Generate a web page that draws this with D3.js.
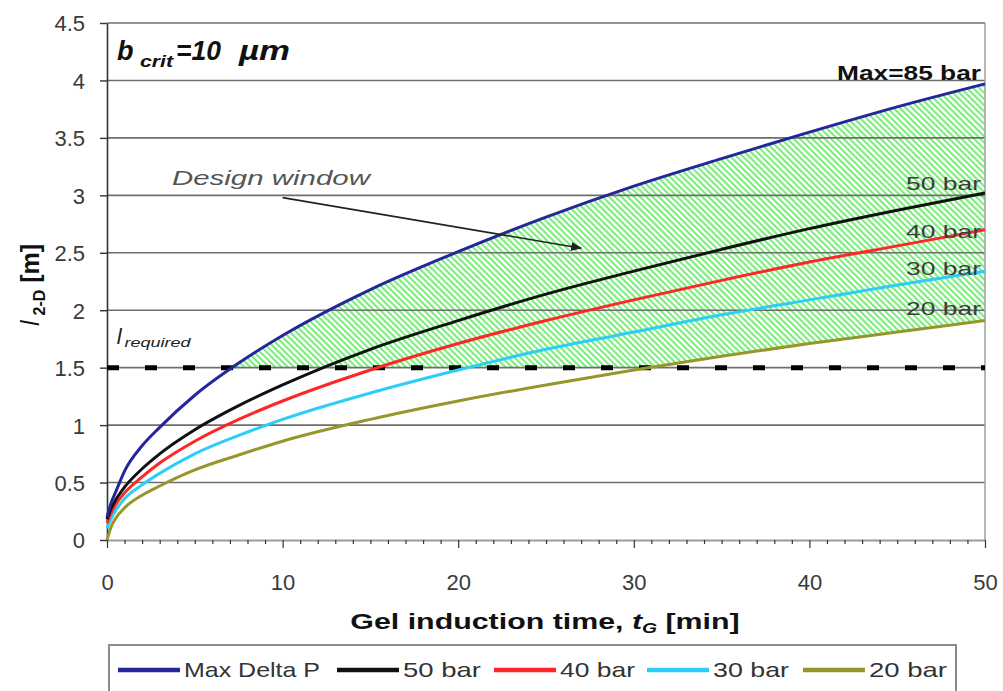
<!DOCTYPE html>
<html>
<head>
<meta charset="utf-8">
<script src="https://cdn.jsdelivr.net/npm/d3@7"></script>
<style>
  body { margin: 0; background: #fff; }
  text { font-family: "Liberation Sans", Arial, sans-serif; }
</style>
</head>
<body>
<svg id="chart" width="1003" height="691"></svg>
<script>
// gel induction time t_G [min]
const tMin = [0, 0.25, 0.5, 1, 2, 3, 5, 7.5, 10, 15, 20, 25, 30, 35, 40, 45, 50]
// l_2-D [m]
const maxDeltaP = [0.2, 0.33, 0.42, 0.6, 0.82, 0.98, 1.26, 1.54, 1.78, 2.18, 2.51, 2.81, 3.08, 3.32, 3.55, 3.77, 3.97]
const bar50 = [0.18, 0.28, 0.35, 0.46, 0.62, 0.75, 0.96, 1.17, 1.35, 1.66, 1.91, 2.14, 2.34, 2.53, 2.71, 2.87, 3.02]
const bar40 = [0.15, 0.24, 0.31, 0.41, 0.55, 0.67, 0.86, 1.05, 1.21, 1.48, 1.71, 1.91, 2.09, 2.26, 2.42, 2.56, 2.70]
const bar30 = [0.1, 0.19, 0.26, 0.36, 0.48, 0.58, 0.75, 0.91, 1.05, 1.28, 1.48, 1.66, 1.81, 1.96, 2.09, 2.22, 2.34]
const bar20 = [0.0, 0.12, 0.19, 0.28, 0.39, 0.47, 0.61, 0.74, 0.86, 1.05, 1.21, 1.35, 1.48, 1.60, 1.71, 1.81, 1.91]
const lRequired = 1.5

const seriesNames = ['Max Delta P', '50 bar', '40 bar', '30 bar', '20 bar']
const endLabels = ['Max=85 bar', '50 bar', '40 bar', '30 bar', '20 bar']
const yTicks = [0, 0.5, 1, 1.5, 2, 2.5, 3, 3.5, 4, 4.5]
const xTicks = [0, 10, 20, 30, 40, 50]

const colors = ['#25259c', '#111111', '#ff2626', '#2ccdf6', '#96962a']
const allSeries = [maxDeltaP, bar50, bar40, bar30, bar20]

const svg = d3.select('#chart')
const plot = { left: 107, right: 985, top: 23, bottom: 540 }

const x = d3.scaleLinear().domain([0, 50]).range([plot.left, plot.right])
const y = d3.scaleLinear().domain([0, 4.5]).range([plot.bottom, plot.top])

const pts = (vals) => tMin.map((t, i) => [t, vals[i]])

// hatch pattern for the design window
const defs = svg.append('defs')
const pat = defs.append('pattern')
    .attr('id', 'hatch')
    .attr('patternUnits', 'userSpaceOnUse')
    .attr('width', 4.4)
    .attr('height', 10)
    .attr('patternTransform', 'rotate(-45)')
pat.append('rect').attr('width', 4.4).attr('height', 10).attr('fill', '#fff')
pat.append('line')
    .attr('x1', 1.1).attr('y1', 0).attr('x2', 1.1).attr('y2', 10)
    .attr('stroke', '#74ec74').attr('stroke-width', 2)

defs.append('clipPath').attr('id', 'aboveReq')
    .append('rect')
    .attr('x', plot.left).attr('y', plot.top)
    .attr('width', plot.right - plot.left)
    .attr('height', y(lRequired) - plot.top)

defs.append('marker')
    .attr('id', 'arrow')
    .attr('viewBox', '0 0 10 10')
    .attr('refX', 9).attr('refY', 5)
    .attr('markerWidth', 7).attr('markerHeight', 7)
    .attr('orient', 'auto')
    .append('path').attr('d', 'M0,1 L10,5 L0,9 z').attr('fill', '#222')

// design window: between max curve and 20 bar curve, above l_required
const band = tMin.map((t, i) => ({ t: t, hi: maxDeltaP[i], lo: bar20[i] }))
svg.append('path')
    .datum(band)
    .attr('clip-path', 'url(#aboveReq)')
    .attr('fill', 'url(#hatch)')
    .attr('d', d3.area()
        .x(d => x(d.t))
        .y0(d => y(d.lo))
        .y1(d => y(d.hi))
        .curve(d3.curveMonotoneX))

// gridlines
svg.append('g').selectAll('line')
    .data(yTicks.filter(v => v > 0))
    .join('line')
    .attr('x1', plot.left).attr('x2', plot.right)
    .attr('y1', d => y(d)).attr('y2', d => y(d))
    .attr('stroke', '#6e6e6e').attr('stroke-width', 1.6)

// right border
svg.append('line')
    .attr('x1', plot.right).attr('x2', plot.right)
    .attr('y1', plot.top).attr('y2', plot.bottom)
    .attr('stroke', '#a0a0a0').attr('stroke-width', 1.5)

// y axis
const yAxis = svg.append('g')
    .attr('transform', `translate(${plot.left},0)`)
    .call(d3.axisLeft(y).tickValues(yTicks).tickSize(7).tickSizeOuter(0)
        .tickFormat(d => d3.format('')(d)))
yAxis.select('.domain').attr('stroke', '#333').attr('stroke-width', 1.6)
yAxis.selectAll('.tick line').attr('stroke', '#333').attr('stroke-width', 1.4)
yAxis.selectAll('.tick text')
    .attr('x', -22).attr('dy', '0.36em')
    .attr('font-size', 22).attr('fill', '#3a3a3a')
    .style('font-family', '"Liberation Sans", Arial, sans-serif')

// x axis: minor ticks every minute, labels every 10
const xAxis = svg.append('g')
    .attr('transform', `translate(0,${plot.bottom})`)
    .call(d3.axisBottom(x).tickValues(d3.range(0, 51, 1)).tickSize(4).tickSizeOuter(0)
        .tickFormat(d => xTicks.includes(d) ? d : ''))
xAxis.select('.domain').attr('stroke', '#9a9a9a').attr('stroke-width', 2)
xAxis.selectAll('.tick line')
    .attr('stroke', '#333').attr('stroke-width', 1.2)
    .attr('y2', d => xTicks.includes(d) ? 8 : 4)
xAxis.selectAll('.tick text')
    .attr('y', 34)
    .attr('font-size', 22).attr('fill', '#3a3a3a')
    .style('font-family', '"Liberation Sans", Arial, sans-serif')

// l_required dashed line
svg.append('line')
    .attr('x1', x(0)).attr('x2', x(50))
    .attr('y1', y(lRequired)).attr('y2', y(lRequired))
    .attr('stroke', '#000').attr('stroke-width', 5)
    .attr('stroke-dasharray', '12,26')

// curves, lowest drawn first
const line = d3.line().x(d => x(d[0])).y(d => y(d[1])).curve(d3.curveMonotoneX)
svg.append('g').selectAll('path')
    .data(allSeries.map((s, i) => ({ vals: s, color: colors[i] })).reverse())
    .join('path')
    .attr('d', d => line(pts(d.vals)))
    .attr('fill', 'none')
    .attr('stroke', d => d.color)
    .attr('stroke-width', 3)

// end labels
const labelDy = [-4, -3, 8, 4, -6]
svg.append('g').selectAll('text')
    .data(endLabels)
    .join('text')
    .attr('x', x(50) - 4)
    .attr('y', (d, i) => y(allSeries[i][allSeries[i].length - 1]) + labelDy[i])
    .attr('text-anchor', 'end')
    .attr('font-size', (d, i) => i == 0 ? 20 : 19)
    .attr('font-weight', (d, i) => i == 0 ? 'bold' : 'normal')
    .attr('fill', (d, i) => i == 0 ? '#111' : '#3c3c3c')
    .attr('textLength', (d, i) => i == 0 ? 144 : 75)
    .attr('lengthAdjust', 'spacingAndGlyphs')
    .text(d => d)

// b_crit annotation
const bcrit = svg.append('text')
    .attr('y', 60)
    .attr('font-size', 27).attr('font-weight', 'bold').attr('font-style', 'italic')
    .attr('fill', '#111')
bcrit.append('tspan').attr('x', 117).text('b')
bcrit.append('tspan').attr('x', 140).attr('dy', 7).attr('font-size', 17)
    .attr('textLength', 33).attr('lengthAdjust', 'spacingAndGlyphs').text('crit')
bcrit.append('tspan').attr('x', 176).attr('dy', -7)
    .attr('textLength', 45).attr('lengthAdjust', 'spacingAndGlyphs').text('=10')
bcrit.append('tspan').attr('x', 239)
    .attr('textLength', 51).attr('lengthAdjust', 'spacingAndGlyphs').text('µm')

// l_required label
const lreq = svg.append('text')
    .attr('x', x(0.55)).attr('y', y(lRequired) - 24)
    .attr('font-style', 'italic').attr('fill', '#222')
lreq.append('tspan').attr('font-size', 22).text('l')
lreq.append('tspan').attr('dx', 3).attr('dy', 3).attr('font-size', 12)
    .attr('textLength', 66).attr('lengthAdjust', 'spacingAndGlyphs').text('required')

// design window note and arrow
svg.append('text')
    .attr('x', x(3.7)).attr('y', y(3.09))
    .attr('font-size', 21).attr('font-style', 'italic').attr('fill', '#555')
    .attr('textLength', 198).attr('lengthAdjust', 'spacingAndGlyphs')
    .text('Design window')
svg.append('line')
    .attr('x1', x(10.0)).attr('y1', y(2.98))
    .attr('x2', x(27.0)).attr('y2', y(2.54))
    .attr('stroke', '#222').attr('stroke-width', 1.6)
    .attr('marker-end', 'url(#arrow)')

// axis titles (the source chart is stretched sideways)
const xt = svg.append('text')
    .attr('transform', `translate(${(plot.left + plot.right) / 2 - 1},629) scale(1.38,1)`)
    .attr('text-anchor', 'middle')
    .attr('font-size', 22).attr('font-weight', 'bold').attr('fill', '#111')
xt.append('tspan').text('Gel induction time, ')
xt.append('tspan').attr('font-style', 'italic').text('t')
xt.append('tspan').attr('font-style', 'italic').attr('font-size', 14).attr('dy', 4).text('G')
xt.append('tspan').attr('dy', -4).text(' [min]')

const yt = svg.append('text')
    .attr('transform', `translate(39,285) rotate(-90)`)
    .attr('text-anchor', 'middle')
    .attr('font-size', 25).attr('fill', '#111')
yt.append('tspan').attr('font-style', 'italic').text('l')
yt.append('tspan').attr('font-size', 16).attr('font-weight', 'bold').attr('dx', 5).attr('dy', 6).text('2-D')
yt.append('tspan').attr('font-weight', 'bold').attr('dy', -6).text(' [m]')

// legend
const legend = svg.append('g')
svg.append('rect')
    .attr('x', 109).attr('y', 645)
    .attr('width', 847).attr('height', 60)
    .attr('fill', 'none').attr('stroke', '#8a8a8a').attr('stroke-width', 2)
const legX = [118, 337, 494, 647, 803]
const legW = [136, 78, 75, 76, 78]
seriesNames.forEach((name, i) => {
    legend.append('line')
        .attr('x1', legX[i]).attr('x2', legX[i] + 62)
        .attr('y1', 670).attr('y2', 670)
        .attr('stroke', colors[i]).attr('stroke-width', 4.5)
    legend.append('text')
        .attr('x', legX[i] + 66).attr('y', 677)
        .attr('font-size', 21).attr('fill', '#333')
        .attr('textLength', legW[i]).attr('lengthAdjust', 'spacingAndGlyphs')
        .text(name)
})
</script>
</body>
</html>
